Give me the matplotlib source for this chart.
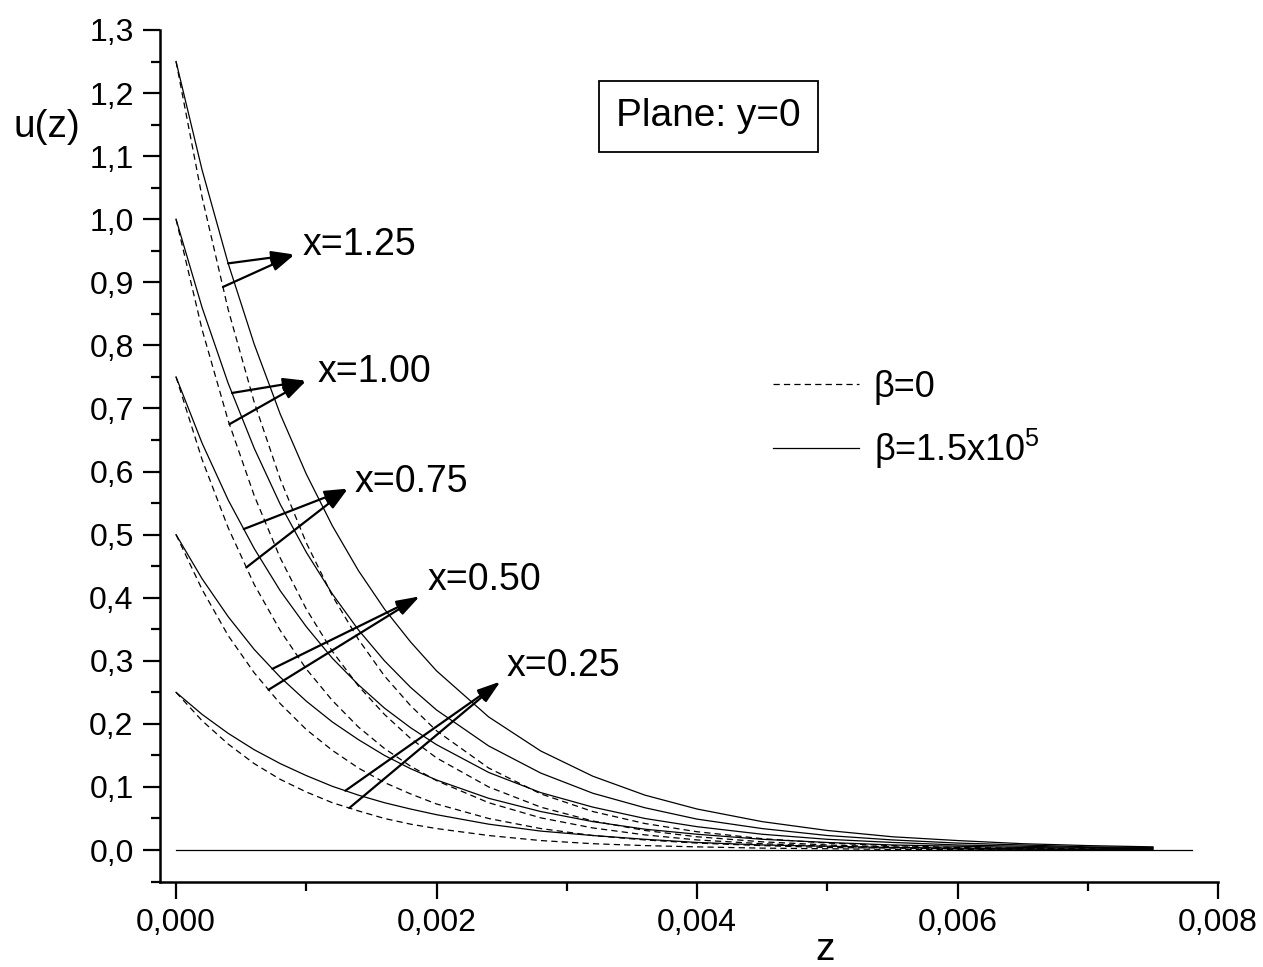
import numpy as np
import matplotlib
matplotlib.use('Agg')
import matplotlib.pyplot as plt
from matplotlib.lines import Line2D
from matplotlib.ticker import MultipleLocator, FuncFormatter

plt.rcParams['font.family'] = ['Liberation Sans', 'DejaVu Sans']
plt.rcParams['mathtext.fontset'] = 'custom'
plt.rcParams['mathtext.rm'] = 'Liberation Sans'
plt.rcParams['lines.scale_dashes'] = False

# z positions where the curves were read
z = [0.0, 0.0002, 0.0004, 0.0006, 0.0008, 0.0010, 0.0012, 0.0014, 0.0016, 0.0018,
     0.0020, 0.0024, 0.0028, 0.0032, 0.0036, 0.0040, 0.0045, 0.0050, 0.0055,
     0.0060, 0.0065, 0.0070, 0.0075]

x_labels = ['x=0.25', 'x=0.50', 'x=0.75', 'x=1.00', 'x=1.25']

# beta = 1.5x10^5 (solid)
u_solid_025 = [0.250, 0.215, 0.185, 0.159, 0.137, 0.118, 0.101, 0.087, 0.075, 0.065,
               0.056, 0.041, 0.030, 0.023, 0.017, 0.012, 0.008, 0.006, 0.004,
               0.003, 0.002, 0.001, 0.001]
u_solid_050 = [0.500, 0.430, 0.370, 0.318, 0.274, 0.236, 0.203, 0.175, 0.150, 0.129,
               0.111, 0.082, 0.061, 0.045, 0.033, 0.025, 0.017, 0.012, 0.008,
               0.006, 0.004, 0.003, 0.002]
u_solid_075 = [0.750, 0.645, 0.555, 0.478, 0.411, 0.354, 0.304, 0.262, 0.225, 0.194,
               0.167, 0.123, 0.091, 0.068, 0.050, 0.037, 0.025, 0.017, 0.012,
               0.008, 0.006, 0.004, 0.003]
u_solid_100 = [1.000, 0.860, 0.740, 0.637, 0.548, 0.472, 0.406, 0.349, 0.300, 0.258,
               0.222, 0.165, 0.122, 0.090, 0.067, 0.049, 0.034, 0.023, 0.016,
               0.011, 0.008, 0.005, 0.004]
u_solid_125 = [1.250, 1.078, 0.930, 0.802, 0.691, 0.596, 0.514, 0.443, 0.382, 0.330,
               0.284, 0.211, 0.157, 0.117, 0.087, 0.065, 0.045, 0.031, 0.021,
               0.015, 0.010, 0.007, 0.005]

# beta = 0 (dashed)
u_dash_025 = [0.250, 0.205, 0.168, 0.137, 0.112, 0.092, 0.075, 0.062, 0.050, 0.041,
              0.034, 0.023, 0.015, 0.010, 0.007, 0.005, 0.003, 0.002, 0.001,
              0.001, 0.000, 0.000, 0.000]
u_dash_050 = [0.500, 0.413, 0.340, 0.281, 0.232, 0.191, 0.158, 0.130, 0.107, 0.089,
              0.073, 0.050, 0.034, 0.023, 0.016, 0.011, 0.007, 0.004, 0.003,
              0.002, 0.001, 0.001, 0.000]
u_dash_075 = [0.750, 0.619, 0.511, 0.421, 0.348, 0.287, 0.237, 0.195, 0.161, 0.133,
              0.110, 0.075, 0.051, 0.035, 0.024, 0.016, 0.010, 0.006, 0.004,
              0.002, 0.001, 0.001, 0.001]
u_dash_100 = [1.000, 0.825, 0.681, 0.562, 0.463, 0.382, 0.315, 0.260, 0.215, 0.177,
              0.146, 0.100, 0.068, 0.046, 0.031, 0.021, 0.013, 0.008, 0.005,
              0.003, 0.002, 0.001, 0.001]
u_dash_125 = [1.250, 1.035, 0.857, 0.710, 0.588, 0.487, 0.403, 0.334, 0.276, 0.229,
              0.189, 0.130, 0.089, 0.061, 0.042, 0.029, 0.018, 0.011, 0.007,
              0.004, 0.003, 0.002, 0.001]

solid = [u_solid_025, u_solid_050, u_solid_075, u_solid_100, u_solid_125]
dashed = [u_dash_025, u_dash_050, u_dash_075, u_dash_100, u_dash_125]

z_base = [0.0, 0.0078]
u_base = [0.0, 0.0]

# where the label arrows start on the curves
tail_solid = [0.00130, 0.00074, 0.00052, 0.00043, 0.00040]
tail_dash = [0.00133, 0.00071, 0.00054, 0.00041, 0.00036]
tip_z = [0.00249, 0.00187, 0.00132, 0.00100, 0.00091]
tip_u = [0.267, 0.402, 0.573, 0.744, 0.944]
text_z = [0.00254, 0.00193, 0.00137, 0.00109, 0.000975]
text_u = [0.291, 0.428, 0.583, 0.758, 0.959]

dash = (0, (4.5, 3))
lw = 0.9

fig = plt.figure(figsize=(12.63, 9.67), dpi=100)
ax = fig.add_axes([0.1267, 0.0879, 0.8377, 0.8811])

for us, ud in zip(solid, dashed):
    ax.plot(z, us, color='black', lw=lw)
    ax.plot(z, ud, color='black', lw=lw, ls=dash)
ax.plot(z_base, u_base, color='black', lw=lw)

for i in range(len(x_labels)):
    for zt, curve in ((tail_solid[i], solid[i]), (tail_dash[i], dashed[i])):
        ut = np.interp(zt, z, curve)
        ax.annotate('', xy=(tip_z[i], tip_u[i]), xytext=(zt, ut),
                    arrowprops=dict(arrowstyle='-|>,head_length=0.7,head_width=0.2',
                                    color='black', lw=1.6, mutation_scale=20,
                                    shrinkA=0, shrinkB=0))
    ax.text(text_z[i], text_u[i], x_labels[i], fontsize=27, ha='left', va='center')

ax.set_xlim(-0.000123, 0.008)
ax.set_ylim(-0.0507, 1.3)

for s in ['top', 'right']:
    ax.spines[s].set_visible(False)
for s in ['left', 'bottom']:
    ax.spines[s].set_linewidth(1.8)

ax.xaxis.set_major_locator(MultipleLocator(0.002))
ax.xaxis.set_minor_locator(MultipleLocator(0.001))
ax.yaxis.set_major_locator(MultipleLocator(0.1))
ax.yaxis.set_minor_locator(MultipleLocator(0.05))
ax.xaxis.set_major_formatter(FuncFormatter(lambda v, p: ('%.3f' % v).replace('.', ',')))
ax.yaxis.set_major_formatter(FuncFormatter(lambda v, p: ('%.1f' % v).replace('.', ',').replace('-', '')))
ax.tick_params(which='major', direction='out', length=12, width=1.6, labelsize=23, pad=7)
ax.tick_params(which='minor', direction='out', length=6.5, width=1.6)

ax.text(-0.107, 0.886, 'u(z)', transform=ax.transAxes, fontsize=28, ha='center', va='center')
ax.text(0.6285, -0.080, 'z', transform=ax.transAxes, fontsize=28, ha='center', va='center')

ax.text(0.5184, 0.899, 'Plane: y=0', transform=ax.transAxes, fontsize=28,
        ha='center', va='center',
        bbox=dict(boxstyle='square,pad=0.45', fc='white', ec='black', lw=1.3))

handles = [Line2D([], [], color='black', lw=lw, ls=dash),
           Line2D([], [], color='black', lw=lw)]
ax.legend(handles, ['β=0', 'β=1.5x10$^{5}$'], loc='upper left',
          bbox_to_anchor=(0.579, 0.601), frameon=False, fontsize=26,
          handlelength=2.4, handletextpad=0.4, labelspacing=0.6,
          borderpad=0, borderaxespad=0)

fig.savefig('out.png', dpi=100)
